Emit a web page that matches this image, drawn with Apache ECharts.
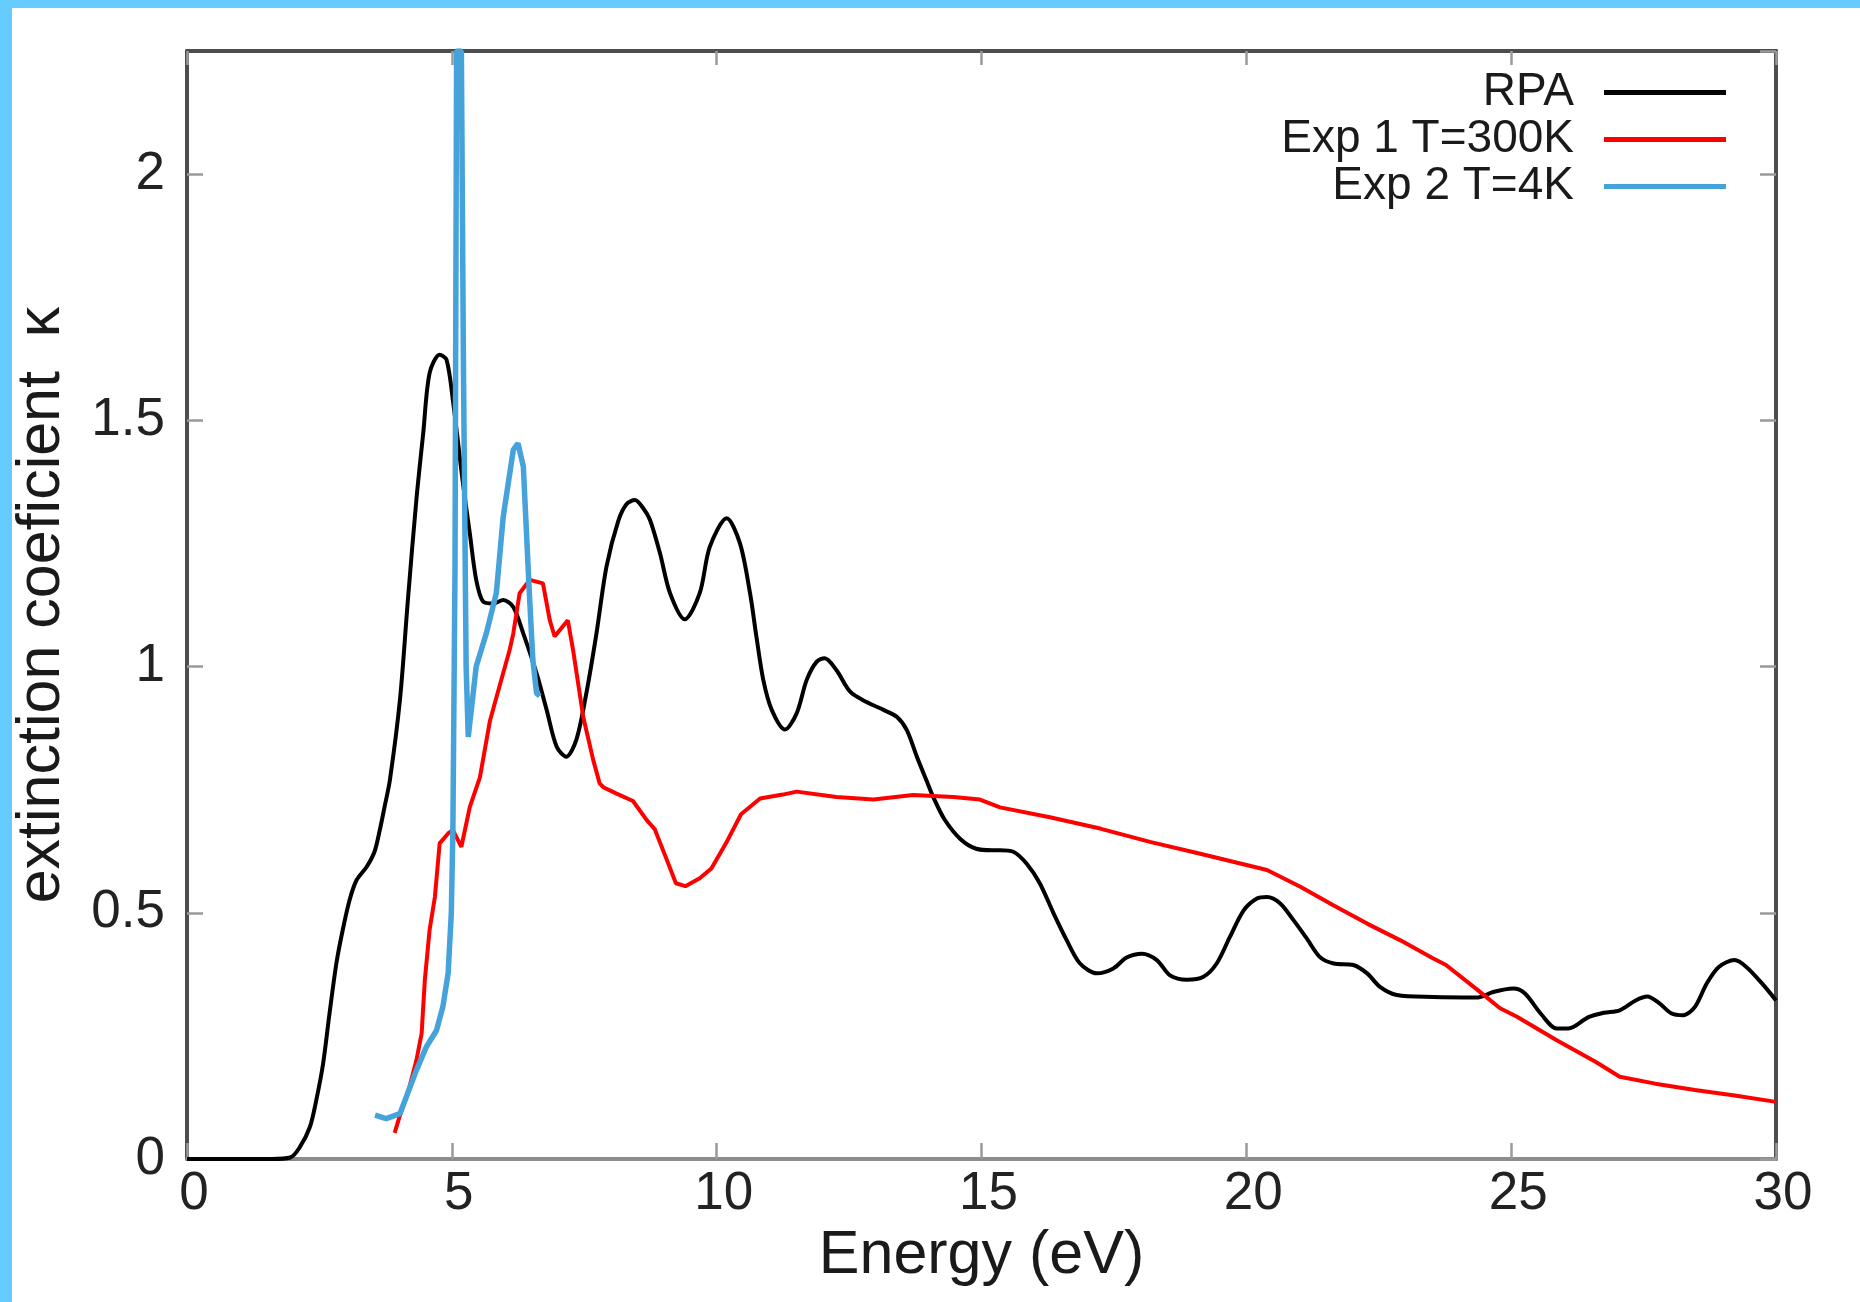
<!DOCTYPE html>
<html>
<head>
<meta charset="utf-8">
<script src="https://cdn.jsdelivr.net/npm/echarts@6/dist/echarts.min.js"></script>
<style>
  html, body { margin: 0; padding: 0; background: #ffffff; }
  #wrap { position: relative; width: 1860px; height: 1302px; overflow: hidden; }
  #chart { position: absolute; left: 0; top: 0; width: 1860px; height: 1302px; }
  #bandTop { position: absolute; left: 0; top: 0; width: 1860px; height: 8px; background: #66ccff; }
  #bandLeft { position: absolute; left: 0; top: 0; width: 12px; height: 1302px; background: #66ccff; }
</style>
</head>
<body>
<div id="wrap">
  <div id="chart"></div>
  <div id="bandTop"></div>
  <div id="bandLeft"></div>
</div>
<script>
// ---- data ----
const seriesNames = ['RPA', 'Exp 1 T=300K', 'Exp 2 T=4K'];
const xTicks = [0, 5, 10, 15, 20, 25, 30];
const yTicks = [0, 0.5, 1, 1.5, 2];

const rpaE = [0, 1.0, 1.6, 1.95, 2.13, 2.32, 2.44, 2.57, 2.69, 2.82, 2.94, 3.07, 3.20, 3.39, 3.54, 3.64, 3.73, 3.83,
  4.02, 4.17, 4.33, 4.46, 4.58, 4.77, 4.90, 5.02, 5.21, 5.34, 5.46, 5.59, 5.78, 5.97, 6.16, 6.35, 6.60, 6.79, 6.98,
  7.16, 7.35, 7.54, 7.73, 7.92, 8.14, 8.30, 8.455, 8.61, 8.74, 8.93, 9.12, 9.40, 9.68, 9.87, 10.19, 10.44, 10.63,
  10.75, 10.88, 11.04, 11.29, 11.51, 11.70, 11.89, 12.04, 12.26, 12.52, 12.83, 13.15, 13.40, 13.59, 13.78, 13.96,
  14.09, 14.3, 14.6, 14.9, 15.2, 15.35, 15.60, 15.85, 16.10, 16.36, 16.61, 16.86, 17.18, 17.49, 17.74, 18.03, 18.31,
  18.56, 18.88, 19.19, 19.44, 19.69, 19.95, 20.20, 20.39, 20.64, 20.89, 21.14, 21.39, 21.65, 22.02, 22.28, 22.53,
  22.84, 23.53, 24.37, 24.66, 25.04, 25.26, 25.56, 25.86, 26.08, 26.46, 26.75, 27.05, 27.35, 27.57, 27.8, 28.02,
  28.25, 28.47, 28.69, 28.92, 29.22, 29.44, 29.74, 30.0];
const rpaK = [0, 0, 0, 0.003, 0.024, 0.065, 0.119, 0.194, 0.295, 0.397, 0.465, 0.526, 0.566, 0.593, 0.624, 0.668, 0.715, 0.769,
  0.932, 1.135, 1.338, 1.474, 1.596, 1.633, 1.623, 1.541, 1.372, 1.27, 1.176, 1.132, 1.128, 1.135, 1.121, 1.067, 0.986, 0.912, 0.837,
  0.817, 0.851, 0.946, 1.067, 1.203, 1.295, 1.330, 1.338, 1.322, 1.298, 1.23, 1.149, 1.096, 1.149, 1.243, 1.301, 1.250, 1.149,
  1.061, 0.973, 0.912, 0.872, 0.905, 0.973, 1.010, 1.017, 0.993, 0.949, 0.928, 0.912, 0.898, 0.871, 0.817, 0.769,
  0.735, 0.69, 0.65, 0.63, 0.627, 0.627, 0.624, 0.600, 0.560, 0.499, 0.444, 0.397, 0.377, 0.387, 0.409, 0.417, 0.404,
  0.373, 0.364, 0.370, 0.397, 0.451, 0.505, 0.529, 0.532, 0.519, 0.485, 0.448, 0.410, 0.397, 0.394, 0.377, 0.349,
  0.333, 0.329, 0.328, 0.339, 0.346, 0.336, 0.295, 0.265, 0.265, 0.288, 0.297, 0.302, 0.322, 0.33, 0.316, 0.296,
  0.292, 0.309, 0.356, 0.39, 0.404, 0.39, 0.356, 0.322];

const exp1E = [3.92, 4.01, 4.20, 4.33, 4.43, 4.49, 4.58, 4.68, 4.77, 4.93, 5.02, 5.18, 5.34, 5.53, 5.72, 5.90, 6.09, 6.16,
  6.28, 6.47, 6.72, 6.85, 6.94, 7.19, 7.29, 7.48, 7.67, 7.79, 7.86, 8.11, 8.42, 8.68, 8.83, 9.05, 9.23, 9.41, 9.68, 9.9,
  10.17, 10.46, 10.82, 11.25, 11.51, 12.26, 12.96, 13.71, 14.47, 14.97, 15.35, 16.29, 17.24, 18.18, 19.13, 20.39, 21.02,
  21.65, 22.28, 22.91, 23.53, 23.77, 24.37, 24.79, 25.11, 25.86, 26.6, 27.05, 27.72, 28.47, 29.22, 30.0];
const exp1K = [0.053, 0.085, 0.146, 0.20, 0.255, 0.363, 0.465, 0.532, 0.641, 0.661, 0.668, 0.634, 0.715, 0.775, 0.89, 0.96, 1.033, 1.067,
  1.149, 1.176, 1.169, 1.094, 1.061, 1.094, 1.033, 0.898, 0.81, 0.763, 0.755, 0.742, 0.727, 0.688, 0.67, 0.61, 0.56, 0.554, 0.57, 0.59,
  0.64, 0.70, 0.732, 0.74, 0.746, 0.735, 0.730, 0.739, 0.735, 0.730, 0.714, 0.694, 0.671, 0.644, 0.620, 0.587, 0.553,
  0.515, 0.478, 0.444, 0.407, 0.394, 0.343, 0.306, 0.289, 0.241, 0.197, 0.167, 0.153, 0.14, 0.129, 0.116];

const exp2E = [3.55, 3.76, 4.02, 4.14, 4.33, 4.52, 4.71, 4.83, 4.93, 4.99, 5.02, 5.06, 5.09, 5.18, 5.22, 5.27, 5.31,
  5.46, 5.65, 5.84, 5.97, 6.16, 6.25, 6.35, 6.41, 6.47, 6.53, 6.60, 6.66];
const exp2K = [0.089, 0.082, 0.092, 0.126, 0.18, 0.228, 0.261, 0.309, 0.377, 0.499, 0.668, 1.2, 2.25, 2.25, 1.6, 1.0, 0.857,
  1.0, 1.067, 1.149, 1.304, 1.44, 1.453, 1.406, 1.27, 1.135, 1.013, 0.946, 0.94];

const pairs = (xs, ys) => xs.map((x, i) => [x, ys[i]]);

const FONT = "'Liberation Sans', Arial, Helvetica, sans-serif";
const chart = echarts.init(document.getElementById('chart'), null, { renderer: 'canvas' });

const tickStyle = { color: '#9a9a9a', width: 2.5 };

chart.setOption({
  animation: false,
  backgroundColor: '#ffffff',
  grid: { left: 187, right: 84, top: 51, bottom: 143, containLabel: false },
  legend: {
    orient: 'vertical',
    align: 'right',
    right: 134,
    top: 69,
    padding: 0,
    itemGap: 0,
    itemWidth: 122,
    itemHeight: 5,
    selectedMode: false,
    textStyle: { fontFamily: FONT, fontSize: 46, lineHeight: 47, color: '#1a1a1a', padding: [0, 25, 0, 0] },
    data: seriesNames.map(n => ({ name: n, icon: 'rect' }))
  },
  xAxis: [
    {
      type: 'value', position: 'bottom', min: xTicks[0], max: xTicks[xTicks.length - 1], interval: 5,
      name: 'Energy (eV)', nameLocation: 'middle', nameGap: 61,
      nameTextStyle: { fontFamily: FONT, fontSize: 61, color: '#1a1a1a' },
      axisLine: { show: true, onZero: false, lineStyle: { color: '#8c8c8c', width: 4 } },
      axisTick: { show: true, inside: true, length: 16, lineStyle: tickStyle },
      axisLabel: { fontFamily: FONT, fontSize: 53, color: '#222', margin: 9, padding: [0, 0, 0, 14] },
      splitLine: { show: false }
    },
    {
      type: 'value', position: 'top', min: xTicks[0], max: xTicks[xTicks.length - 1], interval: 5,
      axisLine: { show: true, onZero: false, lineStyle: { color: '#4d4d4d', width: 4 } },
      axisTick: { show: true, inside: true, length: 14, lineStyle: tickStyle },
      axisLabel: { show: false },
      splitLine: { show: false }
    }
  ],
  yAxis: [
    {
      type: 'value', position: 'left', min: yTicks[0], max: 2.25, interval: 0.5,
      name: 'extinction coeficient  \u03ba', nameLocation: 'middle', nameGap: 114,
      nameTextStyle: { fontFamily: FONT, fontSize: 61, color: '#1a1a1a' },
      axisLine: { show: true, onZero: false, lineStyle: { color: '#4d4d4d', width: 4 } },
      axisTick: { show: true, inside: true, length: 16, lineStyle: tickStyle },
      axisLabel: { fontFamily: FONT, fontSize: 53, color: '#222', margin: 22, showMaxLabel: false },
      splitLine: { show: false }
    },
    {
      type: 'value', position: 'right', min: yTicks[0], max: 2.25, interval: 0.5,
      axisLine: { show: true, onZero: false, lineStyle: { color: '#4d4d4d', width: 4 } },
      axisTick: { show: true, inside: true, length: 16, lineStyle: tickStyle },
      axisLabel: { show: false },
      splitLine: { show: false }
    }
  ],
  series: [
    {
      name: seriesNames[0], type: 'line', xAxisIndex: 0, yAxisIndex: 0,
      data: pairs(rpaE, rpaK), showSymbol: false, symbol: 'none', smooth: 0.3,
      color: '#000000', lineStyle: { color: '#000000', width: 4 }, z: 3
    },
    {
      name: seriesNames[1], type: 'line', xAxisIndex: 0, yAxisIndex: 0,
      data: pairs(exp1E, exp1K), showSymbol: false, symbol: 'none',
      color: '#ff0000', lineStyle: { color: '#ff0000', width: 4 }, z: 4
    },
    {
      name: seriesNames[2], type: 'line', xAxisIndex: 0, yAxisIndex: 0,
      data: pairs(exp2E, exp2K), showSymbol: false, symbol: 'none',
      color: '#45a2db', lineStyle: { color: '#45a2db', width: 5.5 }, z: 5
    }
  ]
});
</script>
</body>
</html>
